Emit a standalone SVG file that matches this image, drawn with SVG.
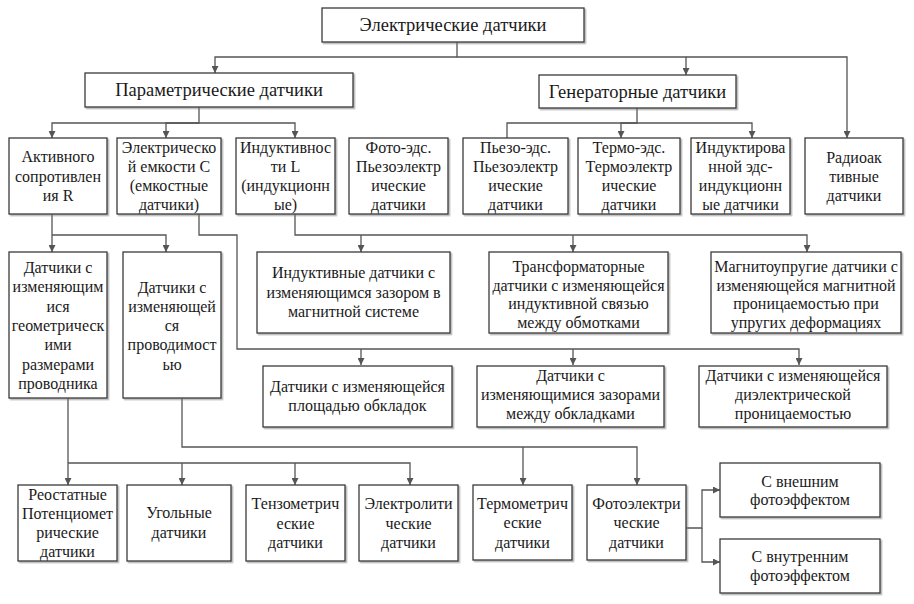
<svg xmlns="http://www.w3.org/2000/svg" width="914" height="604" viewBox="0 0 914 604">
<defs>
<filter id="sh" x="-5%" y="-5%" width="115%" height="120%">
<feDropShadow dx="1.5" dy="1.5" stdDeviation="0.7" flood-color="#777" flood-opacity="0.55"/>
</filter>
<marker id="ar" markerUnits="userSpaceOnUse" markerWidth="7" markerHeight="7" refX="7" refY="3.5" orient="auto">
<path d="M0,0 L7,3.5 L0,7 z" fill="#555"/>
</marker>
</defs>
<style>
rect.b{fill:#fff;stroke:#3a3a3a;stroke-width:1.3;filter:url(#sh)}
text{font-family:"Liberation Serif","Times New Roman",serif;font-size:16px;fill:#1a1a1a;text-anchor:middle}
text.t{font-size:18.5px}
.c path{fill:none;stroke:#555;stroke-width:1.3}
.c path.a{marker-end:url(#ar)}
</style>
<rect width="914" height="604" fill="#fff"/>
<g class="c" id="connectors">
<path class="a" d="M457,42 V57 H215 V73"/>
<path class="a" d="M457,57 H686 V75"/>
<path class="a" d="M686,57 H847 V138"/>
<path class="a" d="M199,107 V123 H52 V138"/>
<path class="a" d="M199,123 H166 V138"/>
<path class="a" d="M199,123 H295 V138"/>
<path d="M637,108 V123 H507 V138"/>
<path class="a" d="M637,123 H621 V138"/>
<path class="a" d="M637,123 H752 V138"/>
<path class="a" d="M52,214 V252"/>
<path class="a" d="M52,235 H166 V252"/>
<path class="a" d="M199,214 V235 H237 V349 H799 V365"/>
<path class="a" d="M361,349 V365"/>
<path class="a" d="M573,349 V365"/>
<path class="a" d="M295,214 V235 H807 V252"/>
<path class="a" d="M361,235 V252"/>
<path class="a" d="M573,235 V252"/>
<path class="a" d="M68,398 V485"/>
<path class="a" d="M68,463 H410 V485"/>
<path class="a" d="M182,463 V485"/>
<path class="a" d="M295,463 V485"/>
<path class="a" d="M182,398 V447 H637 V485"/>
<path class="a" d="M523,447 V485"/>
<path class="a" d="M686,528 H702 V490 H720"/>
<path class="a" d="M702,528 V562 H720"/>
</g>
<g id="n-root"><rect class="b" x="322" y="8" width="262" height="34"/><text class="t" x="453" y="31">Электрические датчики</text></g>
<g id="n-param"><rect class="b" x="85" y="73" width="268" height="34"/><text class="t" x="219" y="96">Параметрические датчики</text></g>
<g id="n-gen"><rect class="b" x="539" y="75" width="197" height="33"/><text class="t" x="637.5" y="97.5">Генераторные датчики</text></g>

<g id="n-r"><rect class="b" x="9" y="138" width="98" height="76"/><text x="58" y="162">Активного</text><text x="58" y="181.5">сопротивлен</text><text x="58" y="201">ия R</text></g>
<g id="n-c"><rect class="b" x="117" y="138" width="104" height="76"/><text x="169" y="152.5">Электрическо</text><text x="169" y="171.5">й емкости С</text><text x="169" y="190.5">(емкостные</text><text x="169" y="209.5">датчики)</text></g>
<g id="n-l"><rect class="b" x="236" y="138" width="99" height="76"/><text x="285.5" y="152.5">Индуктивнос</text><text x="285.5" y="171.5">ти L</text><text x="285.5" y="190.5">(индукционн</text><text x="285.5" y="209.5">ые)</text></g>
<g id="n-foto"><rect class="b" x="349" y="138" width="99" height="76"/><text x="398.5" y="152.5">Фото-эдс.</text><text x="398.5" y="171.5">Пьезоэлектр</text><text x="398.5" y="190.5">ические</text><text x="398.5" y="209.5">датчики</text></g>
<g id="n-piezo"><rect class="b" x="463" y="138" width="105" height="76"/><text x="515.5" y="152.5">Пьезо-эдс.</text><text x="515.5" y="171.5">Пьезоэлектр</text><text x="515.5" y="190.5">ические</text><text x="515.5" y="209.5">датчики</text></g>
<g id="n-termo"><rect class="b" x="578" y="138" width="102" height="76"/><text x="629" y="152.5">Термо-эдс.</text><text x="629" y="171.5">Термоэлектр</text><text x="629" y="190.5">ические</text><text x="629" y="209.5">датчики</text></g>
<g id="n-ind"><rect class="b" x="691" y="138" width="99" height="76"/><text x="740.5" y="152.5">Индуктирова</text><text x="740.5" y="171.5">нной эдс-</text><text x="740.5" y="190.5">индукционн</text><text x="740.5" y="209.5">ые датчики</text></g>
<g id="n-radio"><rect class="b" x="805" y="138" width="98" height="76"/><text x="854" y="163">Радиоак</text><text x="854" y="182">тивные</text><text x="854" y="201">датчики</text></g>

<g id="n-geom"><rect class="b" x="9" y="252" width="98" height="146"/><text x="58" y="273">Датчики с</text><text x="58" y="292.3">изменяющим</text><text x="58" y="311.6">ися</text><text x="58" y="330.9">геометрическ</text><text x="58" y="350.2">ими</text><text x="58" y="369.5">размерами</text><text x="58" y="388.8">проводника</text></g>
<g id="n-prov"><rect class="b" x="123" y="252" width="98" height="146"/><text x="172" y="292.5">Датчики с</text><text x="172" y="311.8">изменяющей</text><text x="172" y="331.1">ся</text><text x="172" y="350.4">проводимост</text><text x="172" y="369.7">ью</text></g>
<g id="n-zazor"><rect class="b" x="257" y="252" width="193" height="81"/><text x="353.5" y="278">Индуктивные датчики с</text><text x="353.5" y="297.5">изменяющимся зазором в</text><text x="353.5" y="317">магнитной системе</text></g>
<g id="n-trans"><rect class="b" x="489" y="252" width="179" height="81"/><text x="578.5" y="272">Трансформаторные</text><text x="578.5" y="290.5">датчики с изменяющейся</text><text x="578.5" y="309">индуктивной связью</text><text x="578.5" y="327.5">между обмотками</text></g>
<g id="n-magn"><rect class="b" x="711" y="252" width="190" height="81"/><text x="806" y="272">Магнитоупругие датчики с</text><text x="806" y="290.5">изменяющейся магнитной</text><text x="806" y="309">проницаемостью при</text><text x="806" y="327.5">упругих деформациях</text></g>

<g id="n-plosh"><rect class="b" x="263" y="366" width="189" height="61"/><text x="357.5" y="392">Датчики с изменяющейся</text><text x="357.5" y="410.5">площадью обкладок</text></g>
<g id="n-zaz2"><rect class="b" x="477" y="366" width="187" height="61"/><text x="570.5" y="381">Датчики с</text><text x="570.5" y="400">изменяющимися зазорами</text><text x="570.5" y="419">между обкладками</text></g>
<g id="n-diel"><rect class="b" x="699" y="366" width="188" height="61"/><text x="793" y="381">Датчики с изменяющейся</text><text x="793" y="400">диэлектрической</text><text x="793" y="419">проницаемостью</text></g>

<g id="n-reo"><rect class="b" x="18" y="485" width="99" height="76"/><text x="67.5" y="499.5">Реостатные</text><text x="67.5" y="518.8">Потенциомет</text><text x="67.5" y="538.1">рические</text><text x="67.5" y="557.4">датчики</text></g>
<g id="n-ugol"><rect class="b" x="127" y="485" width="104" height="76"/><text x="179" y="518">Угольные</text><text x="179" y="538">датчики</text></g>
<g id="n-tenzo"><rect class="b" x="246" y="485" width="99" height="76"/><text x="295.5" y="509">Тензометрич</text><text x="295.5" y="528.5">еские</text><text x="295.5" y="548">датчики</text></g>
<g id="n-elek"><rect class="b" x="359" y="485" width="99" height="76"/><text x="408.5" y="509">Электролити</text><text x="408.5" y="528.5">ческие</text><text x="408.5" y="548">датчики</text></g>
<g id="n-termom"><rect class="b" x="473" y="485" width="99" height="75"/><text x="522.5" y="508.5">Термометрич</text><text x="522.5" y="528">еские</text><text x="522.5" y="547.5">датчики</text></g>
<g id="n-fotoel"><rect class="b" x="587" y="485" width="99" height="75"/><text x="636.5" y="508.5">Фотоэлектри</text><text x="636.5" y="528">ческие</text><text x="636.5" y="547.5">датчики</text></g>
<g id="n-vnesh"><rect class="b" x="720" y="463" width="160" height="54"/><text x="800" y="486.5">С внешним</text><text x="800" y="505">фотоэффектом</text></g>
<g id="n-vnutr"><rect class="b" x="720" y="539" width="160" height="54"/><text x="800" y="562">С внутренним</text><text x="800" y="580.5">фотоэффектом</text></g>
</svg>
